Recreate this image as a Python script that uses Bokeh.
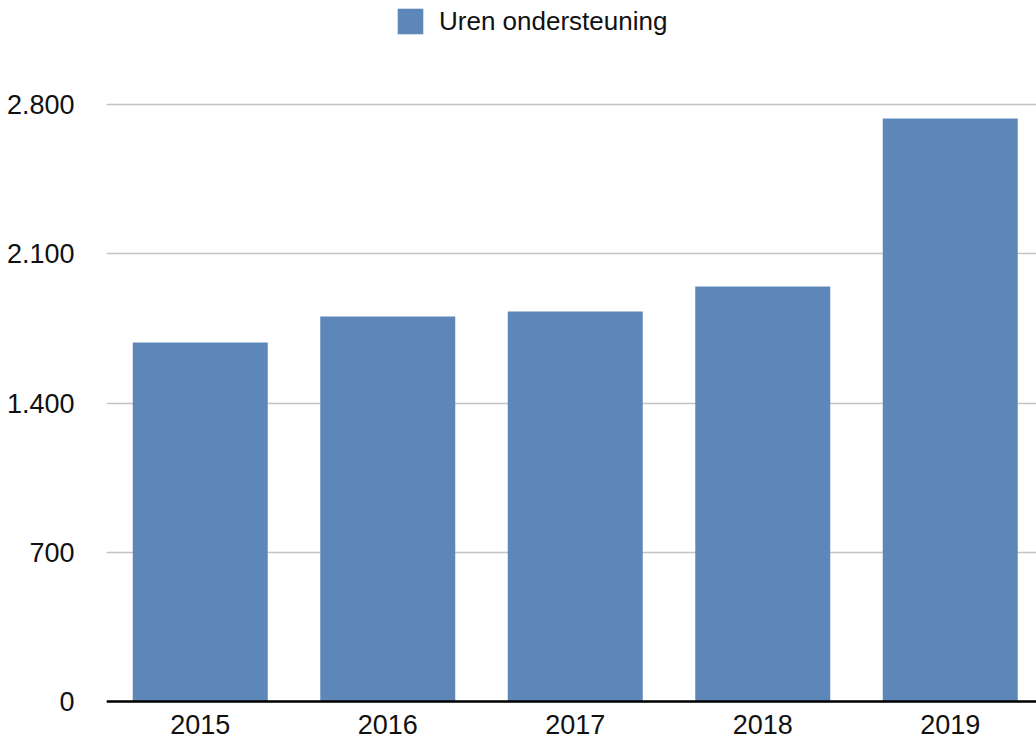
from bokeh.plotting import figure
from bokeh.models import ColumnDataSource, FixedTicker, LinearAxis, Range1d
from bokeh.embed import file_html
from bokeh.resources import INLINE

# ---- data ----
years = ["2015", "2016", "2017", "2018", "2019"]
hours = [1684, 1806, 1829, 1946, 2734]
y_ticks = [0, 700, 1400, 2100, 2800]
y_tick_labels = ["0", "700", "1.400", "2.100", "2.800"]
series_name = "Uren ondersteuning"

BAR_COLOR = "#5e87b9"
FONT = "Liberation Sans"

# ---- layout geometry (screen pixels) ----
W, H = 1036, 740
frame_left = 106           # frame starts at x=106
px_per_unit = 597 / 2800   # vertical scale
zero_px = 701              # y=0 position measured from figure top
cat_px = 187.5             # width of one category slot

x_start = -0.5
x_end = x_start + (W - frame_left) / cat_px
y_start = -(H - zero_px) / px_per_unit
y_end = zero_px / px_per_unit

source = ColumnDataSource(dict(x=list(range(len(years))), top=hours))

p = figure(width=W, height=H, output_backend="svg", toolbar_location=None,
           x_range=Range1d(x_start, x_end), y_range=Range1d(y_start, y_end),
           x_axis_location=None, min_border=0, min_border_left=frame_left,
           min_border_right=0, min_border_top=0, min_border_bottom=0)
p.outline_line_color = None
p.background_fill_color = "white"
p.border_fill_color = "white"

p.vbar(x="x", top="top", bottom=0, width=0.72, source=source,
       fill_color=BAR_COLOR, line_color=None, legend_label=series_name)

# y axis
p.yaxis.ticker = FixedTicker(ticks=y_ticks)
p.yaxis.major_label_overrides = {t: l for t, l in zip(y_ticks, y_tick_labels)}
p.yaxis.axis_line_color = None
p.yaxis.major_tick_line_color = None
p.yaxis.minor_tick_line_color = None
p.yaxis.major_label_standoff = 26
p.yaxis.major_label_text_font = FONT
p.yaxis.major_label_text_font_size = "27px"
p.yaxis.major_label_text_color = "#111111"

p.xgrid.visible = False
p.ygrid.ticker = FixedTicker(ticks=y_ticks)
p.ygrid.grid_line_color = "#c4c4c4"
p.ygrid.grid_line_width = 1.5

# x axis at y = 0
xaxis = LinearAxis(fixed_location=0, ticker=FixedTicker(ticks=list(range(len(years)))))
xaxis.major_label_overrides = {i: y for i, y in enumerate(years)}
xaxis.axis_line_color = "black"
xaxis.axis_line_width = 2.5
xaxis.major_tick_line_color = None
xaxis.minor_tick_line_color = None
xaxis.major_label_standoff = 7
xaxis.major_label_text_font = FONT
xaxis.major_label_text_font_size = "27px"
xaxis.major_label_text_color = "#111111"
p.add_layout(xaxis, "below")

# legend
lg = p.legend[0]
lg.location = (288, 703)
lg.padding = 0
lg.margin = 0
lg.spacing = 0
lg.glyph_width = 32
lg.glyph_height = 32
lg.label_height = 32
lg.label_standoff = 13
lg.border_line_color = None
lg.background_fill_alpha = 0
lg.label_text_font = FONT
lg.label_text_font_size = "26px"
lg.label_text_color = "#111111"

open("out.html", "w").write(file_html(p, INLINE))
